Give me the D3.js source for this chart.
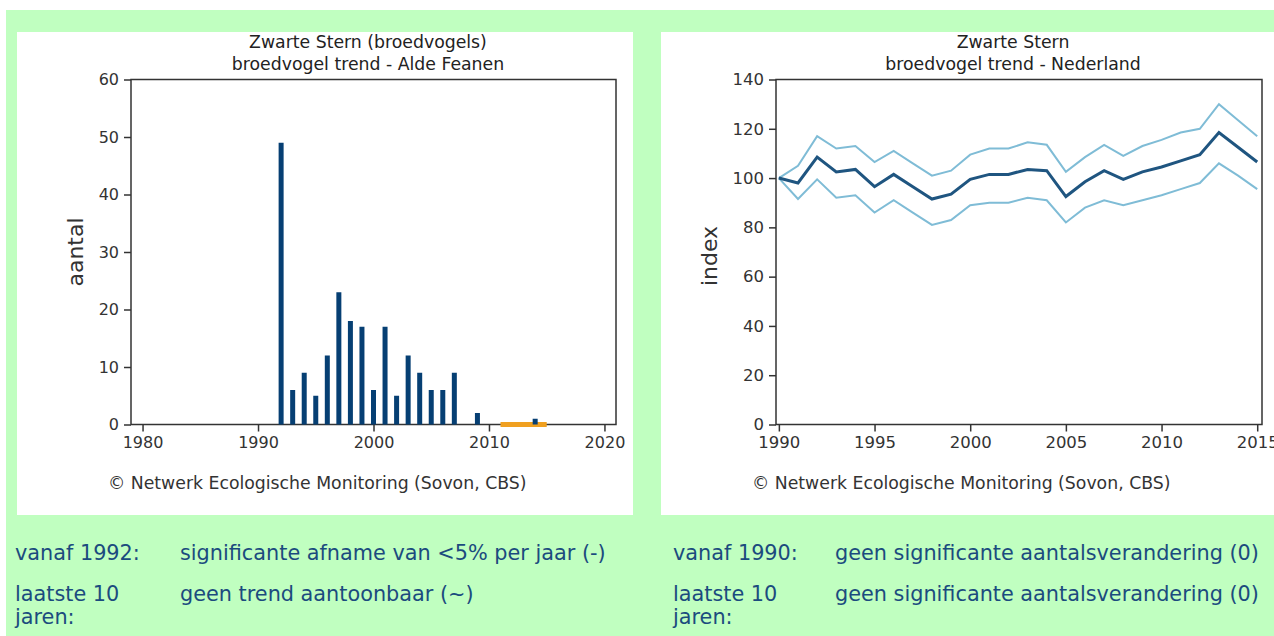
<!DOCTYPE html>
<html lang="nl">
<head>
    <meta charset="UTF-8">
    <title>Zwarte Stern - broedvogel trend</title>
    <script src="https://d3js.org/d3.v7.min.js"></script>
    <style>
        body { margin: 0; background: #fff; }
        svg { display: block; }
        .tick text { font-family: "DejaVu Sans", sans-serif; fill: #333; }
    </style>
</head>
<body>
<div id="chart"></div>
<script>
    // Alde Feanen - aantal broedparen per jaar
    const feanenYears = [1992, 1993, 1994, 1995, 1996, 1997, 1998, 1999, 2000, 2001, 2002, 2003, 2004, 2005, 2006, 2007, 2009, 2014];
    const feanenCounts = [49, 6, 9, 5, 12, 23, 18, 17, 6, 17, 5, 12, 9, 6, 6, 9, 2, 1];
    // periode "laatste 10 jaren" (oranje balk)
    const recentPeriod = [2011, 2015];

    // Nederland - index (1990 = 100) met betrouwbaarheidsband
    const nlYears = d3.range(1990, 2016);
    const nlIndex = [100, 98, 108.5, 102.5, 103.5, 96.5, 101.5, 96.5, 91.5, 93.5, 99.5, 101.5, 101.5, 103.5, 103, 92.5, 98.5, 103, 99.5, 102.5, 104.5, 107, 109.5, 118.5, 112.5, 106.5];
    const nlUpper = [100, 105, 117, 112, 113, 106.5, 111, 106, 101, 103, 109.5, 112, 112, 114.5, 113.5, 102.5, 108.5, 113.5, 109, 113, 115.5, 118.5, 120, 130, 123.5, 117];
    const nlLower = [100, 91.5, 99.5, 92, 93, 86, 91, 86, 81, 83, 89, 90, 90, 92, 91, 82, 88, 91, 89, 91, 93, 95.5, 98, 106, 101, 95.5];

    const leftTicks = [1980, 1990, 2000, 2010, 2020];
    const rightTicks = [1990, 1995, 2000, 2005, 2010, 2015];

    const footLeft = [["vanaf 1992:", "significante afname van <5% per jaar (-)"], ["laatste 10", "geen trend aantoonbaar (~)"], ["jaren:", ""]];
    const footRight = [["vanaf 1990:", "geen significante aantalsverandering (0)"], ["laatste 10", "geen significante aantalsverandering (0)"], ["jaren:", ""]];

    const W = 1274, H = 636;
    const font = "DejaVu Sans, sans-serif";

    const svg = d3.select("#chart").append("svg")
        .attr("width", W)
        .attr("height", H);

    // groene achtergrond + witte panelen
    svg.append("rect").attr("x", 6).attr("y", 10).attr("width", W - 6).attr("height", H - 10).attr("fill", "#c0ffc0");
    svg.append("rect").attr("x", 17).attr("y", 32).attr("width", 616).attr("height", 483).attr("fill", "#fff");
    svg.append("rect").attr("x", 661).attr("y", 32).attr("width", W - 661).attr("height", 483).attr("fill", "#fff");

    function frame(x, y) {
        const [x0, x1] = x.range(), [y0, y1] = y.range();
        svg.append("rect")
            .attr("x", x0).attr("y", y1)
            .attr("width", x1 - x0).attr("height", y0 - y1)
            .attr("fill", "none").attr("stroke", "#333").attr("stroke-width", 1.5);
    }

    function axes(x, y, xt, yt, fs) {
        const gx = svg.append("g")
            .attr("transform", `translate(0,${y.range()[0]})`)
            .call(d3.axisBottom(x).tickValues(xt).tickFormat(d3.format("d")).tickSize(7).tickSizeOuter(0).tickPadding(5));
        const gy = svg.append("g")
            .attr("transform", `translate(${x.range()[0]},0)`)
            .call(d3.axisLeft(y).tickValues(yt).tickSize(7).tickSizeOuter(0).tickPadding(5));
        [gx, gy].forEach(g => {
            g.select(".domain").remove();
            g.selectAll("line").attr("stroke", "#333").attr("stroke-width", 1.5);
            g.selectAll("text").style("font-size", fs + "px");
        });
    }

    function titles(cx, lines) {
        lines.forEach((t, i) => {
            svg.append("text")
                .attr("x", cx).attr("y", 48 + i * 22)
                .attr("text-anchor", "middle")
                .style("font-family", font).style("font-size", "17.3px").attr("fill", "#222")
                .text(t);
        });
    }

    function yLabel(x, cy, t) {
        svg.append("text")
            .attr("transform", `translate(${x},${cy}) rotate(-90)`)
            .attr("text-anchor", "middle")
            .style("font-family", font).style("font-size", "22px").attr("fill", "#333")
            .text(t);
    }

    function copyright(x) {
        svg.append("text")
            .attr("x", x).attr("y", 489)
            .style("font-family", font).style("font-size", "17.3px").attr("fill", "#333")
            .text("\u00A9 Netwerk Ecologische Monitoring (Sovon, CBS)");
    }

    // ---- links: Alde Feanen ----
    const xL = d3.scaleLinear().domain([1979, 2021]).range([131, 616]);
    const yL = d3.scaleLinear().domain([0, 60]).range([424.5, 79.5]);

    titles(368, ["Zwarte Stern (broedvogels)", "broedvogel trend - Alde Feanen"]);
    frame(xL, yL);
    axes(xL, yL, leftTicks, d3.range(0, 61, 10), 16);
    yLabel(83, 252, "aantal");

    svg.append("line")
        .attr("x1", xL(recentPeriod[0])).attr("x2", xL(recentPeriod[1]))
        .attr("y1", yL(0)).attr("y2", yL(0))
        .attr("stroke", "#f0a020").attr("stroke-width", 5);

    svg.selectAll(".bar")
        .data(feanenYears)
        .enter().append("rect")
        .attr("class", "bar")
        .attr("x", d => xL(d) - 2.5)
        .attr("y", (d, i) => yL(feanenCounts[i]))
        .attr("width", 5)
        .attr("height", (d, i) => yL(0) - yL(feanenCounts[i]))
        .attr("fill", "#063f73");

    copyright(108);

    // ---- rechts: Nederland ----
    const xR = d3.scaleLinear().domain([1989.85, 2015.25]).range([776, 1262]);
    const yR = d3.scaleLinear().domain([0, 140]).range([424.5, 79.5]);

    titles(1013, ["Zwarte Stern", "broedvogel trend - Nederland"]);
    frame(xR, yR);
    axes(xR, yR, rightTicks, d3.range(0, 141, 20), 16.5);
    yLabel(717, 256, "index");

    const line = d3.line().x((d, i) => xR(nlYears[i])).y(d => yR(d));
    [[nlUpper, "#7fbcd6", 2], [nlLower, "#7fbcd6", 2], [nlIndex, "#1f5580", 3]].forEach(([s, c, w]) => {
        svg.append("path")
            .datum(s)
            .attr("d", line)
            .attr("fill", "none")
            .attr("stroke", c)
            .attr("stroke-width", w)
            .attr("stroke-linejoin", "miter");
    });

    copyright(752);

    // ---- teksten onder de grafieken ----
    function footer(x1, x2, rows) {
        const ys = [560, 601, 624];
        rows.forEach((r, i) => {
            svg.append("text").attr("x", x1).attr("y", ys[i])
                .style("font-family", font).style("font-size", "20.8px").attr("fill", "#1b4b7e").text(r[0]);
            if (r[1]) svg.append("text").attr("x", x2).attr("y", ys[i])
                .style("font-family", font).style("font-size", "20.8px").attr("fill", "#1b4b7e").text(r[1]);
        });
    }
    footer(15, 180, footLeft);
    footer(673, 835, footRight);
</script>
</body>
</html>
